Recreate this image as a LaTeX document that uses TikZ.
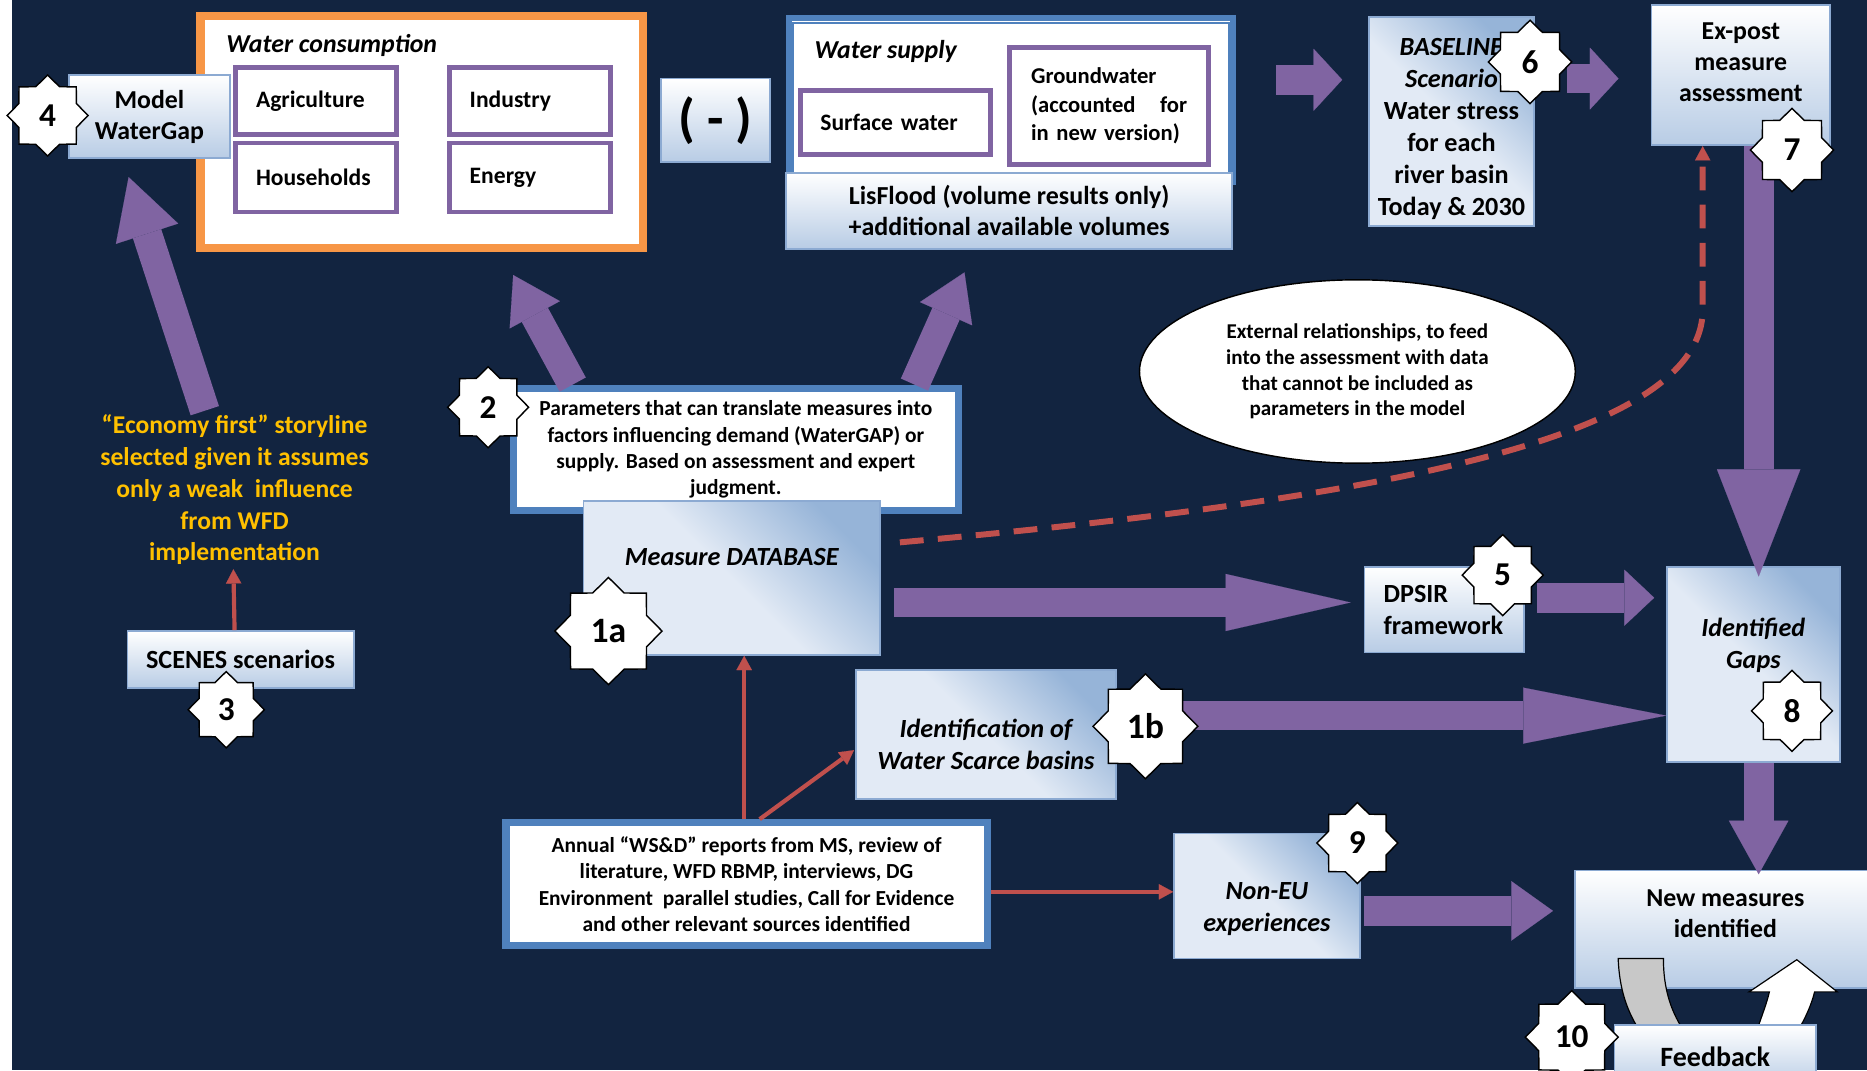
\documentclass[tikz,border=0pt]{standalone}
\usepackage{fontspec}
\setmainfont{Carlito}
\usepackage{tikz}
\usetikzlibrary{positioning,shapes.geometric,arrows.meta}

\definecolor{navy}{RGB}{18,36,64}
\definecolor{boxedge}{RGB}{140,170,210}
\definecolor{boxlight}{RGB}{226,234,245}
\definecolor{boxmid}{RGB}{184,204,229}
\definecolor{boxdark}{RGB}{150,180,216}
\definecolor{wfpurple}{RGB}{128,100,162}
\definecolor{wforange}{RGB}{247,150,70}
\definecolor{wfblue}{RGB}{79,129,189}
\definecolor{wfred}{RGB}{192,80,77}
\definecolor{wfgold}{RGB}{255,192,0}
\definecolor{wfgray}{RGB}{200,200,200}

\newcommand{\fsz}[2]{\fontsize{#1}{#2}\selectfont\bfseries}

\begin{document}
\begin{tikzpicture}[
    x=1pt, y=-1pt,
    gradbox/.style={rectangle, draw=boxedge, line width=1.5pt, top color=white, bottom color=boxmid, align=center, inner sep=0pt, font=\fsz{21.7}{26}},
    mixbox/.style={rectangle, draw=boxedge, line width=1.5pt, top color=boxdark, bottom color=boxlight, middle color=boxlight, shading angle=-45, align=center, inner sep=0pt, font=\fsz{22}{27}\itshape},
    catbox/.style={rectangle, draw=wfpurple, line width=4pt, fill=white, align=left, inner xsep=17pt, font=\fsz{19.8}{24}},
    panel/.style={rectangle, draw=wfblue, line width=6pt, fill=white, align=center, font=\fsz{18}{22}},
    heading/.style={anchor=west, inner sep=0pt, font=\fsz{21.7}{24}\itshape},
    badge/.style={star, star points=8, star point ratio=1.3, draw=black, line width=1.2pt, fill=white, inner sep=0pt, minimum size=68pt, font=\fsz{28}{30}},
    bigarrow/.style 2 args={line width=25pt, draw=wfpurple, -{Triangle[width=#1, length=#2, line width=0.1pt]}},
    redarrow/.style={line width=3.5pt, draw=wfred, -{Triangle[width=13pt, length=12pt, line width=0.1pt]}}
]
    \useasboundingbox (0,0) rectangle (1568,899);
    \fill[white] (0,0) rectangle (1568,899);
    \fill[navy] (10,0) rectangle (1568,899);

    % Nodes
    \node[draw=wforange, line width=6pt, fill=white, minimum width=372pt, minimum height=196pt] (consumption) at (354,111) {};
    \draw[wforange, line width=1.5pt] ([shift={(6,6)}]consumption.north west) rectangle ([shift={(-6,-6)}]consumption.south east);
    \node[heading] (wctitle) at (190,38) {Water consumption};
    \node[catbox, text width=101pt, minimum height=56pt] (agri) at (265.5,85) {Agriculture};
    \node[catbox, text width=101pt, minimum height=56pt] (industry) at (445,85) {Industry};
    \node[catbox, text width=101pt, minimum height=58pt] (house) at (265.5,149) {Households};
    \node[catbox, text width=101pt, minimum height=58pt] (energy) at (445,149) {Energy};
    \node[gradbox, minimum width=135pt, minimum height=70pt] (model) at (125.5,98) {Model\\WaterGap};

    \node[gradbox, minimum width=92pt, minimum height=70pt, font=\fsz{45}{48}] (minus) at (601,101) {( - )};

    \node[panel, line width=5pt, minimum width=373pt, minimum height=137pt] (supply) at (849,84) {};
    \draw[wfblue, line width=1.5pt] ([shift={(6,6)}]supply.north west) rectangle ([shift={(-6,-6)}]supply.south east);
    \node[heading] (wstitle) at (684,43) {Water supply};
    \node[catbox, text width=126pt, minimum height=54pt] (surface) at (752,103) {Surface water};
    \node[catbox, text width=131pt, inner xsep=18pt, minimum height=98pt, font=\fsz{19}{24}] (ground) at (931.5,89) {Groundwater\\(accounted\hfill for\\in new version)};
    \node[gradbox, minimum width=375pt, minimum height=64pt, font=\fsz{21.8}{26}] (lisflood) at (847.5,177) {LisFlood (volume results only)\\+additional available volumes};

    \node[mixbox, font=\fsz{22}{27}, minimum width=138pt, minimum height=176pt] (baseline) at (1219,102) {\strut\\[-19pt]\textit{BASELINE}\\\textit{Scenario}\\Water stress\\for each\\river basin\\Today \& 2030};
    \node[gradbox, minimum width=150pt, minimum height=118pt] (expost) at (1462,63) {Ex-post\\measure\\assessment\\[-12pt]\strut};

    \node[ellipse, draw=black, line width=1.2pt, fill=white, minimum width=366pt, minimum height=154pt, align=center, font=\fsz{17.7}{21.5}] (extern) at (1140,312) {External relationships, to feed\\into the assessment with data\\that cannot be included as\\parameters in the model};

    \node[panel, minimum width=374pt, minimum height=103pt] (params) at (618,377.5) {Parameters that can translate measures into\\factors influencing demand (WaterGAP) or\\supply. Based on assessment and expert\\judgment.};
    \node[mixbox, minimum width=249pt, minimum height=129pt] (db) at (614.5,485.5) {Measure DATABASE\\\strut};

    \node[text=wfgold, align=center, font=\fsz{21.5}{26.7}] (story) at (197,411.5) {``Economy first'' storyline\\selected given it assumes\\only a weak\ \ influence\\from WFD\\implementation};
    \node[gradbox, minimum width=190pt, minimum height=48pt, font=\fsz{22}{24}] (scenes) at (202,554) {SCENES scenarios};

    \node[gradbox, align=left, text width=102pt, inner xsep=16pt, minimum height=72pt, font=\fsz{22}{27}] (dpsir) at (1213,512) {DPSIR\\framework};
    \node[mixbox, minimum width=145pt, minimum height=164pt] (gaps) at (1472.5,558) {Identified\\Gaps\\\strut};
    \node[mixbox, minimum width=218pt, minimum height=108pt] (ident) at (828,617) {\strut\\[-14pt]Identification of\\Water Scarce basins};

    \node[panel, minimum width=404pt, minimum height=103pt] (annual) at (627,742.5) {Annual ``WS\&D'' reports from MS, review of\\literature, WFD RBMP, interviews, DG\\Environment\ \ parallel studies, Call for Evidence\\and other relevant sources identified};
    \node[mixbox, minimum width=156pt, minimum height=105pt] (noneu) at (1064,752.5) {\strut\\[-9pt]Non-EU\\experiences};
    \node[gradbox, minimum width=252pt, minimum height=99pt] (newm) at (1449,780.5) {New measures\\identified\\[-8pt]\strut};

    % Arrows
    \draw[bigarrow={52pt}{24pt}] ([shift={(34,-17)}]supply.east) -- ([shift={(-22,-35)}]baseline.west);
    \draw[bigarrow={52pt}{24pt}] ([shift={(27,-36)}]baseline.east) -- ([shift={(-27,3)}]expost.west);
    \draw[bigarrow={48pt}{38pt}] ([shift={(53,0)}]params.north west) -- ([shift={(-112,19)}]consumption.south east);
    \draw[bigarrow={48pt}{38pt}] ([shift={(-40,0)}]params.north east) -- ([shift={(-37.5,19)}]lisflood.south);
    \draw[bigarrow={55pt}{50pt}] ([shift={(-25,0)}]story.north) -- ([shift={(-17.5,15)}]model.south);
    \draw[bigarrow={70pt}{90pt}] ([shift={(15,0)}]expost.south) -- ([shift={(4.5,9)}]gaps.north);
    \draw[bigarrow={48pt}{105pt}] ([shift={(11,20.5)}]db.east) -- ([shift={(-11,-6)}]dpsir.west);
    \draw[bigarrow={47pt}{25pt}] ([shift={(10,-10)}]dpsir.east) -- ([shift={(-10,-56)}]gaps.west);
    \draw[bigarrow={47pt}{120pt}] ([shift={(0,-16)}]ident.east) -- ([shift={(0,43)}]gaps.west);
    \draw[bigarrow={50pt}{45pt}] ([shift={(4.5,0)}]gaps.south) -- ([shift={(28,4)}]newm.north);
    \draw[bigarrow={50pt}{35pt}] ([shift={(3,12.5)}]noneu.east) -- ([shift={(-18,-15.5)}]newm.west);

    \draw[redarrow] ([shift={(-5,0)}]scenes.north) -- ([shift={(-1,0)}]story.south);
    \draw[redarrow] ([shift={(-2,0)}]annual.north) -- ([shift={(10.5,0)}]db.south);
    \draw[redarrow] ([shift={(11,0)}]annual.north) -- ([shift={(-1,13)}]ident.west);
    \draw[redarrow] ([shift={(0,6.5)}]annual.east) -- ([shift={(0,-3.5)}]noneu.west);
    \draw[redarrow, line width=5pt, dash pattern=on 20pt off 12pt] ([shift={(16,-30)}]db.east) .. controls (1150,420) and (1430,370) .. (1430,260) -- ([shift={(-32,0)}]expost.south);

    % Feedback loop
    \filldraw[fill=wfgray, draw=black, line width=1pt] (1359,805) .. controls (1360,830) and (1366,848) .. (1376,864) -- (1413,864) .. controls (1403,848) and (1397,830) .. (1397,805) -- cycle;
    \filldraw[fill=white, draw=black, line width=1pt] (1476,864) .. controls (1480,852) and (1484,842) .. (1486,833) -- (1469,833) -- (1509,806) -- (1543,833) -- (1524,833) .. controls (1521,845) and (1516,855) .. (1511,864) -- cycle;
    \node[gradbox, minimum width=169pt, minimum height=53pt, font=\fsz{23.5}{26}] (feedback) at (1440.5,887.5) {Feedback};

    % Step numbers
    \node[badge] (n4) at (40,97) {4};
    \node[badge] (n2) at (410,342) {2};
    \node[badge, minimum size=64pt] (n3) at (190,596) {3};
    \node[badge, minimum size=90pt, font=\fsz{30}{32}] (n1a) at (511,530) {1a};
    \node[badge, minimum size=88pt, font=\fsz{30}{32}] (n1b) at (962,610) {1b};
    \node[badge] (n5) at (1262,483) {5};
    \node[badge, minimum size=70pt] (n6) at (1285,52) {6};
    \node[badge, minimum size=70pt] (n7) at (1505,126) {7};
    \node[badge] (n8) at (1505,597) {8};
    \node[badge] (n9) at (1140,708) {9};
    \node[badge, minimum size=78pt] (n10) at (1320,871) {10};
\end{tikzpicture}
\end{document}
